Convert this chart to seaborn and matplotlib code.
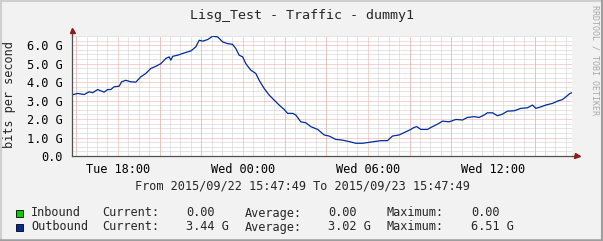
import matplotlib
matplotlib.use("Agg")
import matplotlib.pyplot as plt
from matplotlib.patches import Rectangle
from matplotlib.lines import Line2D
from matplotlib.ticker import MultipleLocator, FuncFormatter
import seaborn as sns
import pandas as pd

# ---- data (hours since Tue 2015/09/22 00:00, Gbit/s) ----
hours = [15.87, 16.06, 16.38, 16.62, 16.79, 17.03, 17.22, 17.34, 17.51, 17.66,
         17.82, 18.06, 18.18, 18.38, 18.62, 18.86, 19.10, 19.34, 19.58, 19.82,
         20.06, 20.30, 20.46, 20.54, 20.63, 20.87, 21.18, 21.50, 21.74, 21.90,
         22.07, 22.31, 22.55, 22.79, 23.03, 23.26, 23.50, 23.66, 23.82, 23.99,
         24.14, 24.38, 24.62, 24.78, 25.02, 25.26, 25.50, 25.74, 25.98, 26.15,
         26.39, 26.54, 26.78, 27.02, 27.26, 27.59, 27.90, 28.14, 28.46, 28.78,
         29.10, 29.42, 29.74, 30.06, 30.30, 30.62, 30.94, 31.18, 31.50, 31.82,
         32.06, 32.22, 32.35, 32.54, 32.86, 33.10, 33.35, 33.59, 33.90, 34.22,
         34.54, 34.78, 35.10, 35.34, 35.58, 35.74, 35.98, 36.22, 36.46, 36.70,
         37.02, 37.34, 37.66, 37.90, 38.06, 38.30, 38.54, 38.86, 39.10, 39.34,
         39.50, 39.70, 39.82]
outbound = [3.33, 3.39, 3.33, 3.48, 3.43, 3.60, 3.51, 3.46, 3.60, 3.60,
            3.75, 3.78, 4.02, 4.10, 4.02, 4.00, 4.29, 4.47, 4.74, 4.86,
            5.00, 5.28, 5.37, 5.19, 5.40, 5.46, 5.58, 5.69, 5.91, 6.27,
            6.22, 6.31, 6.49, 6.45, 6.18, 6.09, 6.05, 5.82, 5.46, 5.37,
            5.00, 4.65, 4.47, 4.10, 3.66, 3.30, 3.03, 2.76, 2.52, 2.31,
            2.31, 2.22, 1.85, 1.80, 1.59, 1.44, 1.14, 1.08, 0.90, 0.86,
            0.78, 0.69, 0.69, 0.74, 0.78, 0.83, 0.83, 1.08, 1.14, 1.31,
            1.44, 1.55, 1.59, 1.44, 1.44, 1.59, 1.73, 1.89, 1.85, 1.98,
            1.95, 2.09, 2.13, 2.09, 2.22, 2.34, 2.34, 2.18, 2.27, 2.43,
            2.45, 2.58, 2.61, 2.76, 2.58, 2.66, 2.76, 2.85, 2.97, 3.06,
            3.20, 3.39, 3.44]
x_ticks = [18, 24, 30, 36]
x_tick_labels = ["Tue 18:00", "Wed 00:00", "Wed 06:00", "Wed 12:00"]
title = "Lisg_Test - Traffic - dummy1"
period = "From 2015/09/22 15:47:49 To 2015/09/23 15:47:49"
legend_names = ["Inbound", "Outbound"]
legend_colors = ["#00CF00", "#002A97"]
cur_vals = ["0.00", "3.44 G"]
avg_vals = ["0.00", "3.02 G"]
max_vals = ["0.00", "6.51 G"]

t_start = 15 + 47 / 60 + 49 / 3600
t_end = t_start + 24

df = pd.DataFrame({"hours": hours, "outbound": outbound})

W, H = 603, 241
MONO = "DejaVu Sans Mono"
sns.set_style("white")
plt.rcParams["font.family"] = [MONO]

fig = plt.figure(figsize=(W / 100, H / 100), dpi=100, facecolor="#f2f2f2")
ax = fig.add_axes([72 / W, 1 - 156 / H, 500 / W, 120 / H])
ax.set_facecolor("white")

sns.lineplot(data=df, x="hours", y="outbound", ax=ax, color="#002A97",
             linewidth=0.9, zorder=5)

ax.set_xlim(t_start, t_end)
ax.set_ylim(0, 6.5)

# grid
dot = (0, (1, 1))
RED = "#f4a4a4"
ax.xaxis.set_minor_locator(MultipleLocator(0.5))
ax.yaxis.set_minor_locator(MultipleLocator(0.25))
ax.grid(which="minor", color="#cccccc", linestyle=dot, linewidth=0.72)
ax.grid(which="major", color=RED, linestyle=dot, linewidth=0.72)
ax.set_axisbelow(True)

ax.set_yticks([0, 1, 2, 3, 4, 5, 6])
ax.yaxis.set_major_formatter(FuncFormatter(lambda v, p: f"{v:.1f}" if v == 0 else f"{v:.1f} G"))
ax.set_xticks(x_ticks)
ax.set_xticklabels(x_tick_labels)
for h in range(16, 40, 2):
    if h not in x_ticks:
        ax.axvline(h, color=RED, linestyle=dot, linewidth=0.72, zorder=1)

ax.tick_params(axis="both", which="both", length=2, width=0.7, color="#606060",
               direction="out", labelsize=8.6, labelcolor="black", pad=5)
ax.tick_params(axis="x", which="major", pad=3)

for s in ["top", "right"]:
    ax.spines[s].set_visible(False)
for s in ["left", "bottom"]:
    ax.spines[s].set_color("#505050")
    ax.spines[s].set_linewidth(0.9)

# axis extensions and arrows
ax.add_line(Line2D([0, 0], [1, 1.04], transform=ax.transAxes, color="#505050",
                   linewidth=0.9, clip_on=False))
ax.add_line(Line2D([1, 1.008], [0, 0], transform=ax.transAxes, color="#505050",
                   linewidth=0.9, clip_on=False))
ax.plot([0], [1.05], marker="^", markersize=3.6, color="#8b1c1c",
        transform=ax.transAxes, clip_on=False, zorder=10)
ax.plot([1.01], [0], marker=">", markersize=3.6, color="#8b1c1c",
        transform=ax.transAxes, clip_on=False, zorder=10)

ax.set_xlabel("")
ax.set_ylabel("")

# texts
fig.text(302 / W, 1 - 15 / H, title, ha="center", va="center", fontsize=9.6,
         family=MONO)
fig.text(10 / W, 1 - 95 / H, "bits per second", rotation=90, ha="center",
         va="center", fontsize=8.6, family=MONO)
fig.text(595 / W, 1 - 5 / H, "RRDTOOL / TOBI OETIKER", rotation=270,
         ha="center", va="top", fontsize=6.0, color="#a8a8a8", family=MONO)
fig.text(302 / W, 1 - 186 / H, period, ha="center", va="center", fontsize=8.6,
         family=MONO)

rows_y = [213, 227]
for i in range(2):
    yy = 1 - rows_y[i] / H
    fig.patches.append(Rectangle((16 / W, 1 - (rows_y[i] + 3.5) / H), 7 / W, 7 / H,
                                 facecolor=legend_colors[i], edgecolor="black",
                                 linewidth=0.6, transform=fig.transFigure,
                                 figure=fig))
    for xpos, txt in [(31, legend_names[i]), (102, "Current:"), (186.5, cur_vals[i]),
                      (245, "Average:"), (328, avg_vals[i]), (386.5, "Maximum:"),
                      (471, max_vals[i])]:
        fig.text(xpos / W, yy, txt, ha="left", va="center", fontsize=8.6,
                 family=MONO)

# 3D-ish border
fig.add_artist(Line2D([0, 1], [1 - 1 / H, 1 - 1 / H], color="#cfcfcf", linewidth=1.5,
                      transform=fig.transFigure))
fig.add_artist(Line2D([1 / W, 1 / W], [0, 1], color="#cfcfcf", linewidth=1.5,
                      transform=fig.transFigure))
fig.add_artist(Line2D([1 - 1 / W, 1 - 1 / W], [0, 1], color="#9e9e9e", linewidth=1.5,
                      transform=fig.transFigure))
fig.add_artist(Line2D([0, 1], [1.2 / H, 1.2 / H], color="#9e9e9e", linewidth=1.8,
                      transform=fig.transFigure))

fig.savefig("out.png", dpi=100, facecolor=fig.get_facecolor())
